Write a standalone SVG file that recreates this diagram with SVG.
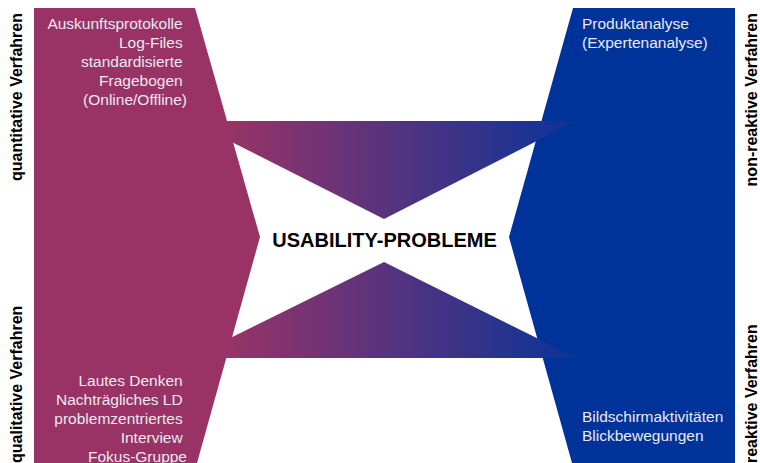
<svg xmlns="http://www.w3.org/2000/svg" width="760" height="463" viewBox="0 0 760 463">
<defs>
<linearGradient id="grad" gradientUnits="userSpaceOnUse" x1="226" y1="0" x2="577" y2="0">
<stop offset="0" stop-color="#993366"/>
<stop offset="1" stop-color="#0a3399"/>
</linearGradient>
<style>
.item{font-family:"Liberation Sans",Arial,sans-serif;font-size:15.5px;fill:#ebe8ee}
.side{font-family:"Liberation Sans",Arial,sans-serif;font-size:16px;font-weight:bold;fill:#000}
.title{font-family:"Liberation Sans",Arial,sans-serif;font-size:20px;font-weight:bold;fill:#000}
</style>
</defs>
<rect width="760" height="463" fill="#fff"/>
<g id="left-block">
<polygon points="34,8 195,8 260,237 197,463 34,463" fill="#993366"/>
</g>
<g id="right-block">
<polygon points="573,8 735,8 735,463 572,463 509,237" fill="#003399"/>
</g>
<g id="connectors">
<polygon points="190,121 576,121 384,219" fill="url(#grad)"/>
<polygon points="190,358 577,358 384,262" fill="url(#grad)"/>
</g>
<g id="center">
<text class="title" x="384.5" y="247" text-anchor="middle">USABILITY-PROBLEME</text>
</g>
<g id="quantitative">
<text class="item" text-anchor="end">
<tspan x="187" y="29">Auskunftsprotokolle</tspan>
<tspan x="187" y="48">Log-Files</tspan>
<tspan x="187" y="67">standardisierte</tspan>
<tspan x="187" y="86">Fragebogen</tspan>
<tspan x="187" y="105">(Online/Offline)</tspan>
</text>
<text class="side" transform="translate(22,13) rotate(-90)" text-anchor="end">quantitative Verfahren</text>
</g>
<g id="qualitative">
<text class="item" text-anchor="end">
<tspan x="187" y="386">Lautes Denken</tspan>
<tspan x="187" y="405">Nachträgliches LD</tspan>
<tspan x="187" y="424">problemzentriertes</tspan>
<tspan x="187" y="443">Interview</tspan>
<tspan x="187" y="461.5">Fokus-Gruppe</tspan>
</text>
<text class="side" transform="translate(22,463) rotate(-90)" text-anchor="start">qualitative Verfahren</text>
</g>
<g id="non-reaktive">
<text class="item">
<tspan x="582" y="29">Produktanalyse</tspan>
<tspan x="582" y="48">(Expertenanalyse)</tspan>
</text>
<text class="side" transform="translate(757,13) rotate(-90)" text-anchor="end">non-reaktive Verfahren</text>
</g>
<g id="reaktive">
<text class="item">
<tspan x="582" y="422">Bildschirmaktivitäten</tspan>
<tspan x="582" y="441">Blickbewegungen</tspan>
</text>
<text class="side" transform="translate(757,463) rotate(-90)" text-anchor="start">reaktive Verfahren</text>
</g>
</svg>
